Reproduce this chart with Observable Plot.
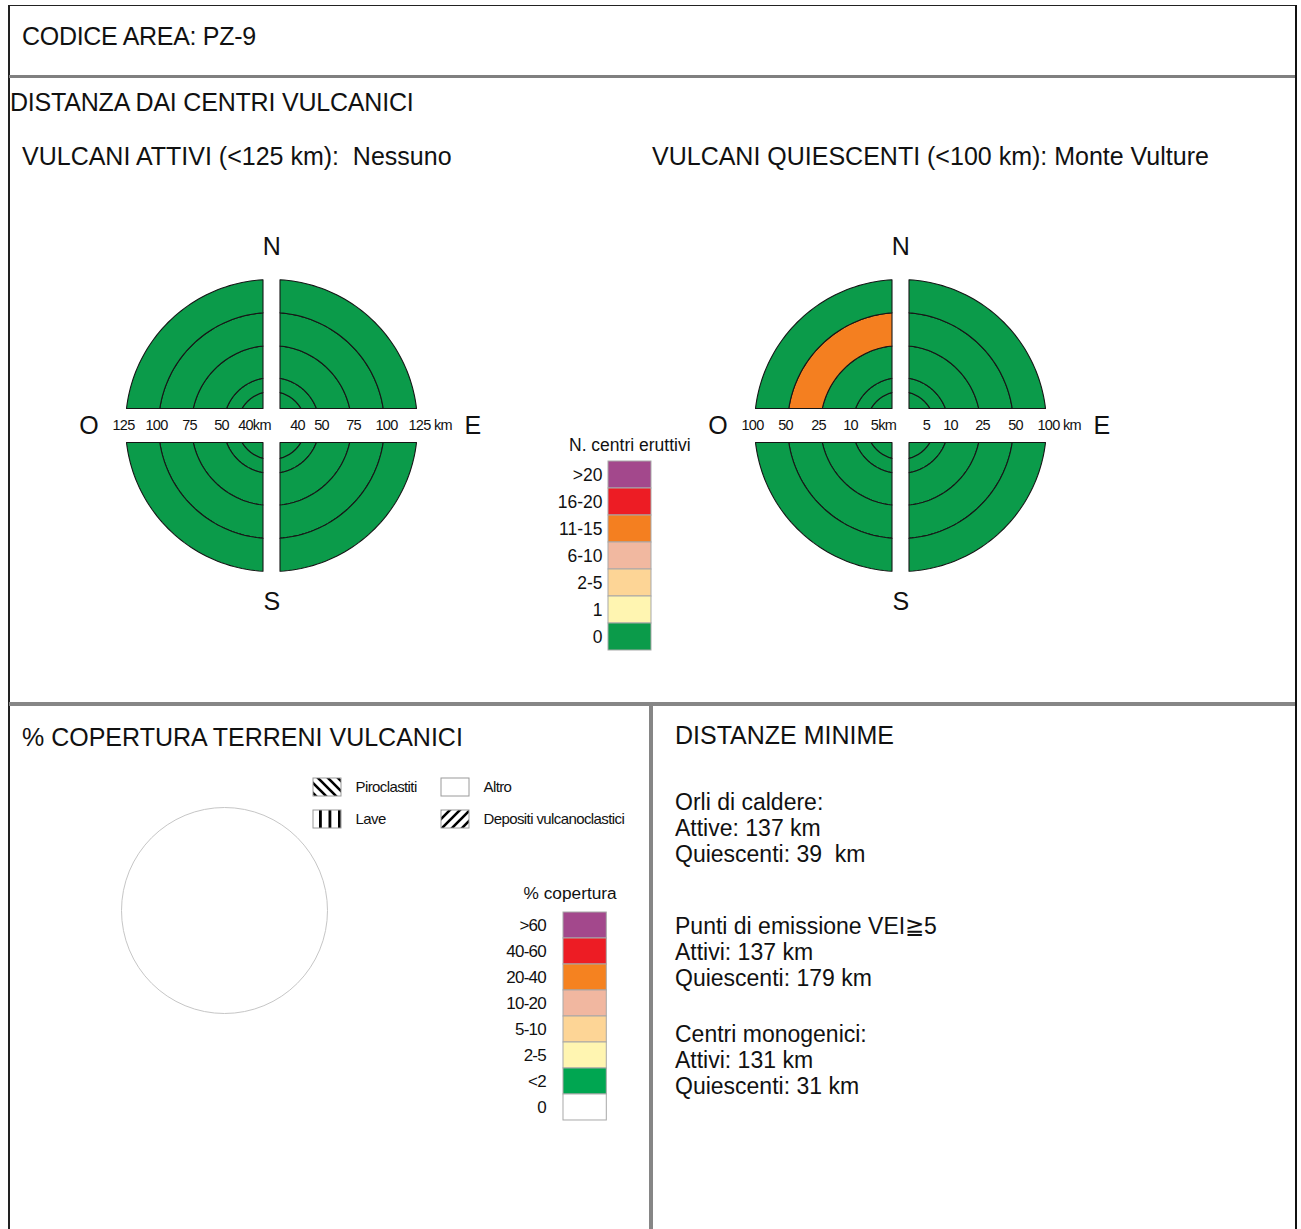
<!DOCTYPE html>
<html><head><meta charset="utf-8">
<script src="https://cdn.jsdelivr.net/npm/d3@7"></script>
<script src="https://cdn.jsdelivr.net/npm/@observablehq/plot@0.6"></script>
<style>
body{margin:0;background:#fff;}
#page{position:relative;width:1301px;height:1229px;overflow:hidden;background:#fff;font-family:"Liberation Sans",Arial,Helvetica,sans-serif;color:#111;}
.t{position:absolute;white-space:pre;line-height:1;}
.blk{position:absolute;white-space:pre;}
.rule{position:absolute;}
.box{position:absolute;}
.box svg{overflow:visible;}
</style></head><body><div id="page"></div>
<script>
// ---------------- DATA ----------------
const areaCode = "CODICE AREA: PZ-9";
const sectionTitle = "DISTANZA DAI CENTRI VULCANICI";
const activeTitle = "VULCANI ATTIVI (<125 km):  Nessuno";
const quiescentTitle = "VULCANI QUIESCENTI (<100 km): Monte Vulture";
const coverTitle = "% COPERTURA TERRENI VULCANICI";
const minTitle = "DISTANZE MINIME";

const directions = ["NE", "SE", "SW", "NW"];
const compassLetters = ["N", "S", "O", "E"];

// ring outer bounds (km), inner -> outer
const activeBounds = [40, 50, 75, 100, 125];
const activeNE = ["0", "0", "0", "0", "0"];
const activeSE = ["0", "0", "0", "0", "0"];
const activeSW = ["0", "0", "0", "0", "0"];
const activeNW = ["0", "0", "0", "0", "0"];

const quiescentBounds = [5, 10, 25, 50, 100];
const quiescentNE = ["0", "0", "0", "0", "0"];
const quiescentSE = ["0", "0", "0", "0", "0"];
const quiescentSW = ["0", "0", "0", "0", "0"];
const quiescentNW = ["0", "0", "0", "11-15", "0"];

const centriTitle = "N. centri eruttivi";
const centriClasses = [">20", "16-20", "11-15", "6-10", "2-5", "1", "0"];
const centriColors = ["#a3488c", "#ed1c24", "#f47f20", "#f1b8a0", "#fdd596", "#fff5b1", "#0b9b4a"];

const coverLegendTitle = "% copertura";
const coverClasses = [">60", "40-60", "20-40", "10-20", "5-10", "2-5", "<2", "0"];
const coverColors = ["#a3488c", "#ed1c24", "#f58220", "#f1b7a0", "#fdd596", "#fff5b1", "#00a651", "#ffffff"];

const patternNames = ["Piroclastiti", "Altro", "Lave", "Depositi vulcanoclastici"];
const patternFills = ["url(#pPiro)", "#ffffff", "url(#pLave)", "url(#pDep)"];
const coverageShares = [0, 0, 0, 0];

const minGroups = [
  ["Orli di caldere:", "Attive: 137 km", "Quiescenti: 39  km"],
  ["Punti di emissione VEI\u22675", "Attivi: 137 km", "Quiescenti: 179 km"],
  ["Centri monogenici:", "Attivi: 131 km", "Quiescenti: 31 km"]
];

// ---------------- LAYOUT HELPERS ----------------
const FONT = '"Liberation Sans", Arial, Helvetica, sans-serif';
const page = document.getElementById("page");
function rule(l, t, w, h, c) {
  const d = document.createElement("div"); d.className = "rule";
  Object.assign(d.style, {left: l + "px", top: t + "px", width: w + "px", height: h + "px", background: c});
  page.appendChild(d);
}
function text(str, l, baseline, fs, extra = {}) {
  const d = document.createElement("div"); d.className = "t"; d.textContent = str;
  Object.assign(d.style, {left: l + "px", top: (baseline - 0.8465 * fs) + "px", fontSize: fs + "px"}, extra);
  page.appendChild(d);
}
function place(node, l, t) {
  const d = document.createElement("div"); d.className = "box";
  Object.assign(d.style, {left: l + "px", top: t + "px"});
  d.appendChild(node); page.appendChild(d);
}

// frame
rule(8, 4.5, 1288, 1.5, "#222");
rule(8, 4.5, 1.5, 1226, "#222");
rule(1294.5, 4.5, 2, 1226, "#111");
rule(9, 74.5, 1286, 3.5, "#808080");
rule(9, 701.5, 1286, 4, "#868686");
rule(648.5, 701.5, 4, 530, "#868686");

// headings
text(areaCode, 22, 45.5, 25, {letterSpacing: "-0.3px"});
text(sectionTitle, 10, 111, 25, {letterSpacing: "-0.2px"});
text(activeTitle, 22, 165, 25);
text(quiescentTitle, 652, 165, 25);
text(coverTitle, 22, 746, 25);
text(minTitle, 675, 744, 25);

// minimum distances
const groupTops = [789, 912.5, 1020.7];
minGroups.forEach((g, i) => {
  const d = document.createElement("div"); d.className = "blk"; d.textContent = g.join("\n");
  Object.assign(d.style, {left: "675px", top: groupTops[i] + "px", fontSize: "23px", lineHeight: "26px"});
  page.appendChild(d);
});

// ---------------- ROSES ----------------
const GX = 8.5, GY = 17;
const RING_PX = [34, 48, 80, 113, 146];
const SIGNS = {NE: [1, 1], SE: [1, -1], SW: [-1, -1], NW: [-1, 1]};

function sectorPoints(bounds, byDir) {
  const pts = [];
  const n = 48;
  directions.forEach((d, di) => {
    const [sx, sy] = SIGNS[d];
    byDir[di].forEach((cls, i) => {
      const r0 = i === 0 ? 0 : RING_PX[i - 1], r1 = RING_PX[i];
      const poly = [];
      const a0 = Math.atan2(GY, Math.sqrt(r1 * r1 - GY * GY));
      const a1 = Math.atan2(Math.sqrt(r1 * r1 - GX * GX), GX);
      for (let k = 0; k <= n; k++) { const a = a0 + (a1 - a0) * k / n; poly.push([r1 * Math.cos(a), r1 * Math.sin(a)]); }
      if (r0 > Math.hypot(GX, GY)) {
        const b0 = Math.atan2(GY, Math.sqrt(r0 * r0 - GY * GY));
        const b1 = Math.atan2(Math.sqrt(r0 * r0 - GX * GX), GX);
        for (let k = n; k >= 0; k--) { const a = b0 + (b1 - b0) * k / n; poly.push([r0 * Math.cos(a), r0 * Math.sin(a)]); }
      } else poly.push([GX, GY]);
      poly.push(poly[0]);
      const id = d + "-" + bounds[i];
      poly.forEach(([u, v]) => pts.push({x: sx * u, y: sy * v, id, cls}));
    });
  });
  return pts;
}

const LABEL_FS = 14.5, LABEL_LS = -0.7;
function axisLabels(bounds) {
  const out = [];
  const digitW = 0.556 * LABEL_FS + LABEL_LS;
  bounds.forEach((b, i) => {
    const c = i === 0 ? RING_PX[i] - 8 : RING_PX[i] + 2;
    const nw = String(b).length * digitW;
    const leftTxt = i === 0 ? b + "km" : String(b);
    const rightTxt = i === bounds.length - 1 ? b + " km" : String(b);
    out.push({x: -c - nw / 2, y: 0, text: leftTxt});
    out.push({x: c - nw / 2, y: 0, text: rightTxt});
  });
  return out;
}

function compass() {
  const R = RING_PX[RING_PX.length - 1];
  const pos = {N: [0, R + 33], S: [0, -(R + 30)], O: [-(R + 37), 0], E: [R + 55, 0]};
  return compassLetters.map(t => ({t, x: pos[t][0], y: pos[t][1]}));
}

function rose(bounds, byDir) {
  return Plot.plot({
    width: 440, height: 400, margin: 0,
    x: {domain: [-220, 220], axis: null},
    y: {domain: [-200, 200], axis: null},
    color: {domain: centriClasses, range: centriColors},
    style: {fontFamily: FONT, background: "transparent", overflow: "visible", color: "#111", letterSpacing: LABEL_LS + "px"},
    marks: [
      Plot.line(sectorPoints(bounds, byDir), {x: "x", y: "y", z: "id", fill: "cls", stroke: "#161616", strokeWidth: 1.1, curve: "linear"}),
      Plot.text(axisLabels(bounds), {x: "x", y: "y", text: "text", textAnchor: "start", fontSize: LABEL_FS, fill: "#111"}),
      Plot.text(compass(), {x: "x", y: "y", text: "t", fontSize: 25, fill: "#111"})
    ]
  });
}

place(rose(activeBounds, [activeNE, activeSE, activeSW, activeNW]), 50.5, 225);
place(rose(quiescentBounds, [quiescentNE, quiescentSE, quiescentSW, quiescentNW]), 679.5, 225);

// ---------------- LEGENDS ----------------
function swatchLegend(classes, colors, ml, bw, step, pad, fs, ls) {
  return Plot.plot({
    width: ml + bw, height: classes.length * step,
    marginLeft: ml, marginRight: 0, marginTop: 0, marginBottom: 0,
    x: {axis: null},
    y: {domain: classes, padding: 0, tickSize: 0, tickPadding: pad, label: null},
    color: {domain: classes, range: colors},
    style: {fontFamily: FONT, fontSize: fs + "px", color: "#111", overflow: "visible", letterSpacing: ls},
    marks: [Plot.cell(classes, {y: d => d, fill: d => d, stroke: "#a8a8a8", strokeWidth: 1})]
  });
}
text(centriTitle, 569, 452, 17.5);
place(swatchLegend(centriClasses, centriColors, 77, 43, 27.05, 6, 17.5, "0px"), 530.7, 460.7);

text(coverLegendTitle, 523.5, 900, 17.3);
place(swatchLegend(coverClasses, coverColors, 80, 43.3, 26.75, 17.7, 17, "-0.8px"), 482.7, 908.7);

// pattern legend
const patternItems = patternNames.map((name, i) => ({name, col: i % 2, row: Math.floor(i / 2), share: coverageShares[i]}));
const patLegend = Plot.plot({
  width: 340, height: 70, margin: 0,
  x: {type: "band", domain: [0, 1], range: [12.5, 168.5], paddingInner: 0.78125, paddingOuter: 0, axis: null},
  y: {type: "band", domain: [0, 1], range: [7.3, 58.5], paddingInner: 0.434, paddingOuter: 0, axis: null},
  color: {type: "ordinal", domain: patternNames, range: patternFills},
  style: {fontFamily: FONT, color: "#111", overflow: "visible", letterSpacing: "-0.6px"},
  marks: [
    Plot.cell(patternItems, {x: "col", y: "row", fill: "name", stroke: "#9a9a9a", strokeWidth: 1}),
    Plot.text(patternItems, {x: "col", y: "row", text: "name", textAnchor: "start", dx: 28, fontSize: 15, fill: "#111"})
  ]
});
d3.select(patLegend).insert("defs", ":first-child").html(
  '<pattern id="pPiro" patternUnits="userSpaceOnUse" width="10" height="10">' +
  '<path d="M-5,5 L5,15 M-1,-1 L11,11 M5,-5 L15,5" stroke="#000" stroke-width="2.6"/></pattern>' +
  '<pattern id="pDep" patternUnits="userSpaceOnUse" width="10" height="10">' +
  '<path d="M-5,5 L5,-5 M-1,11 L11,-1 M5,15 L15,5" stroke="#000" stroke-width="2.6"/></pattern>' +
  '<pattern id="pLave" patternUnits="userSpaceOnUse" width="9.5" height="10">' +
  '<rect x="0" y="0" width="2.8" height="10" fill="#000"/></pattern>'
);
place(patLegend, 300, 770);

// coverage pie (empty: all shares 0)
const total = d3.sum(coverageShares);
const wedgePts = [];
if (total > 0) {
  let acc = 0;
  patternItems.forEach(p => {
    if (p.share <= 0) return;
    const a0 = acc / total * 2 * Math.PI, a1 = (acc + p.share) / total * 2 * Math.PI; acc += p.share;
    wedgePts.push({x: 0, y: 0, name: p.name});
    for (let k = 0; k <= 40; k++) { const a = a0 + (a1 - a0) * k / 40; wedgePts.push({x: 100 * Math.sin(a), y: 100 * Math.cos(a), name: p.name}); }
    wedgePts.push({x: 0, y: 0, name: p.name});
  });
}
const pie = Plot.plot({
  width: 220, height: 220, margin: 0,
  x: {domain: [-110, 110], axis: null},
  y: {domain: [-110, 110], axis: null},
  color: {type: "ordinal", domain: patternNames, range: patternFills},
  style: {overflow: "visible"},
  marks: [
    Plot.line(wedgePts, {x: "x", y: "y", z: "name", fill: "name", stroke: "#333"}),
    Plot.dot([{x: 0, y: 0}], {x: "x", y: "y", r: 103, stroke: "#c6c6c6", fill: "none", strokeWidth: 1})
  ]
});
place(pie, 114, 800);
</script>
</body></html>
